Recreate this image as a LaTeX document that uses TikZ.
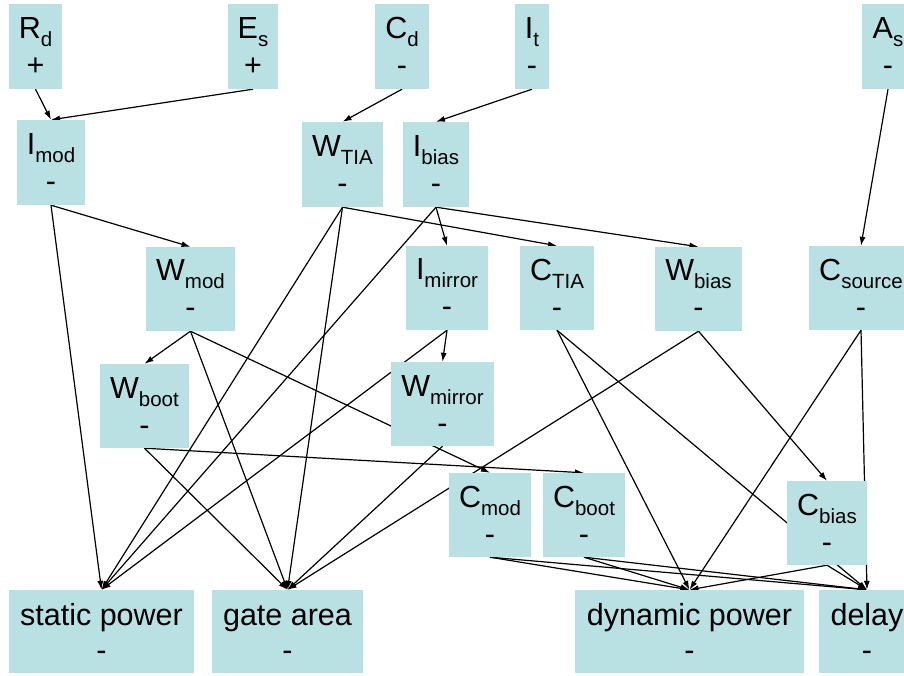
\documentclass[tikz,border=0pt]{standalone}
\usepackage{fontspec}
\setmainfont{Liberation Sans}
\usetikzlibrary{arrows.meta}
\definecolor{boxfill}{RGB}{185,224,227}
\newcommand\sbs[1]{\raisebox{-8pt}{\fontsize{20.5}{20.5}\selectfont #1}}
\pgfdeclarelayer{bg}
\pgfsetlayers{bg,main}
\begin{document}
\begin{tikzpicture}[x=1pt,y=-1pt,
  var/.style={rectangle, fill=boxfill, inner sep=0pt, align=center,
    font=\fontsize{30.5}{37}\selectfont},
  goal/.style={var, font=\fontsize{30.5}{35}\selectfont},
  edge/.style={line width=1.2pt, -{Latex[length=9pt,width=6pt]}}]
\path[use as bounding box] (0,0) rectangle (904,675);
\clip (0,0) rectangle (904,675);

% inputs
\node[var, minimum width=53pt, minimum height=85pt] (Rd) at (35.5,46.5) {R\sbs{d}\\+};
\node[var, minimum width=50pt, minimum height=85pt] (Es) at (253,46.5) {E\sbs{s}\\+};
\node[var, minimum width=54pt, minimum height=85pt] (Cd) at (402,46.5) {C\sbs{d}\\-};
\node[var, minimum width=34pt, minimum height=85pt] (It) at (532,46.5) {I\sbs{t}\\-};
\node[var, minimum width=52pt, minimum height=85pt] (As) at (888,46.5) {A\sbs{s}\\-};

% second row
\node[var, minimum width=68pt, minimum height=85pt] (Imod) at (51,162.5) {I\sbs{mod}\\-};
\node[var, minimum width=81pt, minimum height=85pt] (WTIA) at (342.5,164.5) {W\sbs{TIA}\\-};
\node[var, minimum width=66pt, minimum height=85pt] (Ibias) at (436,164.5) {I\sbs{bias}\\-};

% third row
\node[var, minimum width=89pt, minimum height=84pt] (Wmod) at (190.5,289) {W\sbs{mod}\\-};
\node[var, minimum width=82pt, minimum height=84pt] (Imirror) at (447,288) {I\sbs{mirror}\\-};
\node[var, minimum width=74pt, minimum height=84pt] (CTIA) at (557,288) {C\sbs{TIA}\\-};
\node[var, minimum width=87pt, minimum height=84pt] (Wbias) at (698.5,289) {W\sbs{bias}\\-};
\node[var, minimum width=104pt, minimum height=84pt] (Csource) at (861,288) {C\sbs{source}\\-};

% fourth row
\node[var, minimum width=89pt, minimum height=84pt] (Wboot) at (144.5,406) {W\sbs{boot}\\-};
\node[var, minimum width=103pt, minimum height=84pt] (Wmirror) at (442.5,404) {W\sbs{mirror}\\-};

% fifth row
\node[var, minimum width=82pt, minimum height=84pt] (Cmod) at (490,515) {C\sbs{mod}\\-};
\node[var, minimum width=82pt, minimum height=84pt] (Cboot) at (584,515) {C\sbs{boot}\\-};
\node[var, minimum width=80pt, minimum height=84pt] (Cbias) at (827,523) {C\sbs{bias}\\-};

% objectives
\node[goal, minimum width=185pt, minimum height=83pt] (static) at (101.5,631.5) {\vphantom{lg}static power\\-};
\node[goal, minimum width=151pt, minimum height=83pt] (gate) at (287.5,631.5) {\vphantom{lg}gate area\\-};
\node[goal, minimum width=229pt, minimum height=83pt] (dyn) at (689.5,631.5) {\vphantom{lg}dynamic power\\-};
\node[goal, minimum width=96pt, minimum height=83pt] (delay) at (867,631.5) {\vphantom{lg}delay\\-};

\begin{pgfonlayer}{bg}
\draw[edge] (Rd.south) -- (Imod.north);
\draw[edge] (Es.south) -- (Imod.north);
\draw[edge] (Cd.south) -- (WTIA.north);
\draw[edge] (It.south) -- (Ibias.north);
\draw[edge] (As.south) -- (Csource.north);

\draw[edge] (Imod.south) -- (Wmod.north);
\draw[edge] (Imod.south) -- (static.north);

\draw[edge] (WTIA.south) -- (CTIA.north);
\draw[edge] (WTIA.south) -- (static.north);
\draw[edge] (WTIA.south) -- (gate.north);

\draw[edge] (Ibias.south) -- (Imirror.north);
\draw[edge] (Ibias.south) -- (Wbias.north);
\draw[edge] (Ibias.south) -- (static.north);

\draw[edge] (Wmod.south) -- (Wboot.north);
\draw[edge] (Wmod.south) -- (gate.north);
\draw[edge] (Wmod.south) -- (Cmod.north);

\draw[edge] (Imirror.south) -- (Wmirror.north);
\draw[edge] (Imirror.south) -- (static.north);

\draw[edge] (CTIA.south) -- (dyn.north);
\draw[edge] (CTIA.south) -- (delay.north);

\draw[edge] (Wbias.south) -- (Cbias.north);
\draw[edge] (Wbias.south) -- (gate.north);

\draw[edge] (Csource.south) -- (dyn.north);
\draw[edge] (Csource.south) -- (delay.north);

\draw[edge] (Wboot.south) -- (gate.north);
\draw[edge] (Wboot.south) -- (Cboot.north);

\draw[edge] (Wmirror.south) -- (gate.north);

\draw[edge] (Cmod.south) -- (dyn.north);
\draw[edge] (Cmod.south) -- (delay.north);
\draw[edge] (Cboot.south) -- (dyn.north);
\draw[edge] (Cboot.south) -- (delay.north);
\draw[edge] (Cbias.south) -- (dyn.north);
\draw[edge] (Cbias.south) -- (delay.north);
\end{pgfonlayer}
\end{tikzpicture}
\end{document}
